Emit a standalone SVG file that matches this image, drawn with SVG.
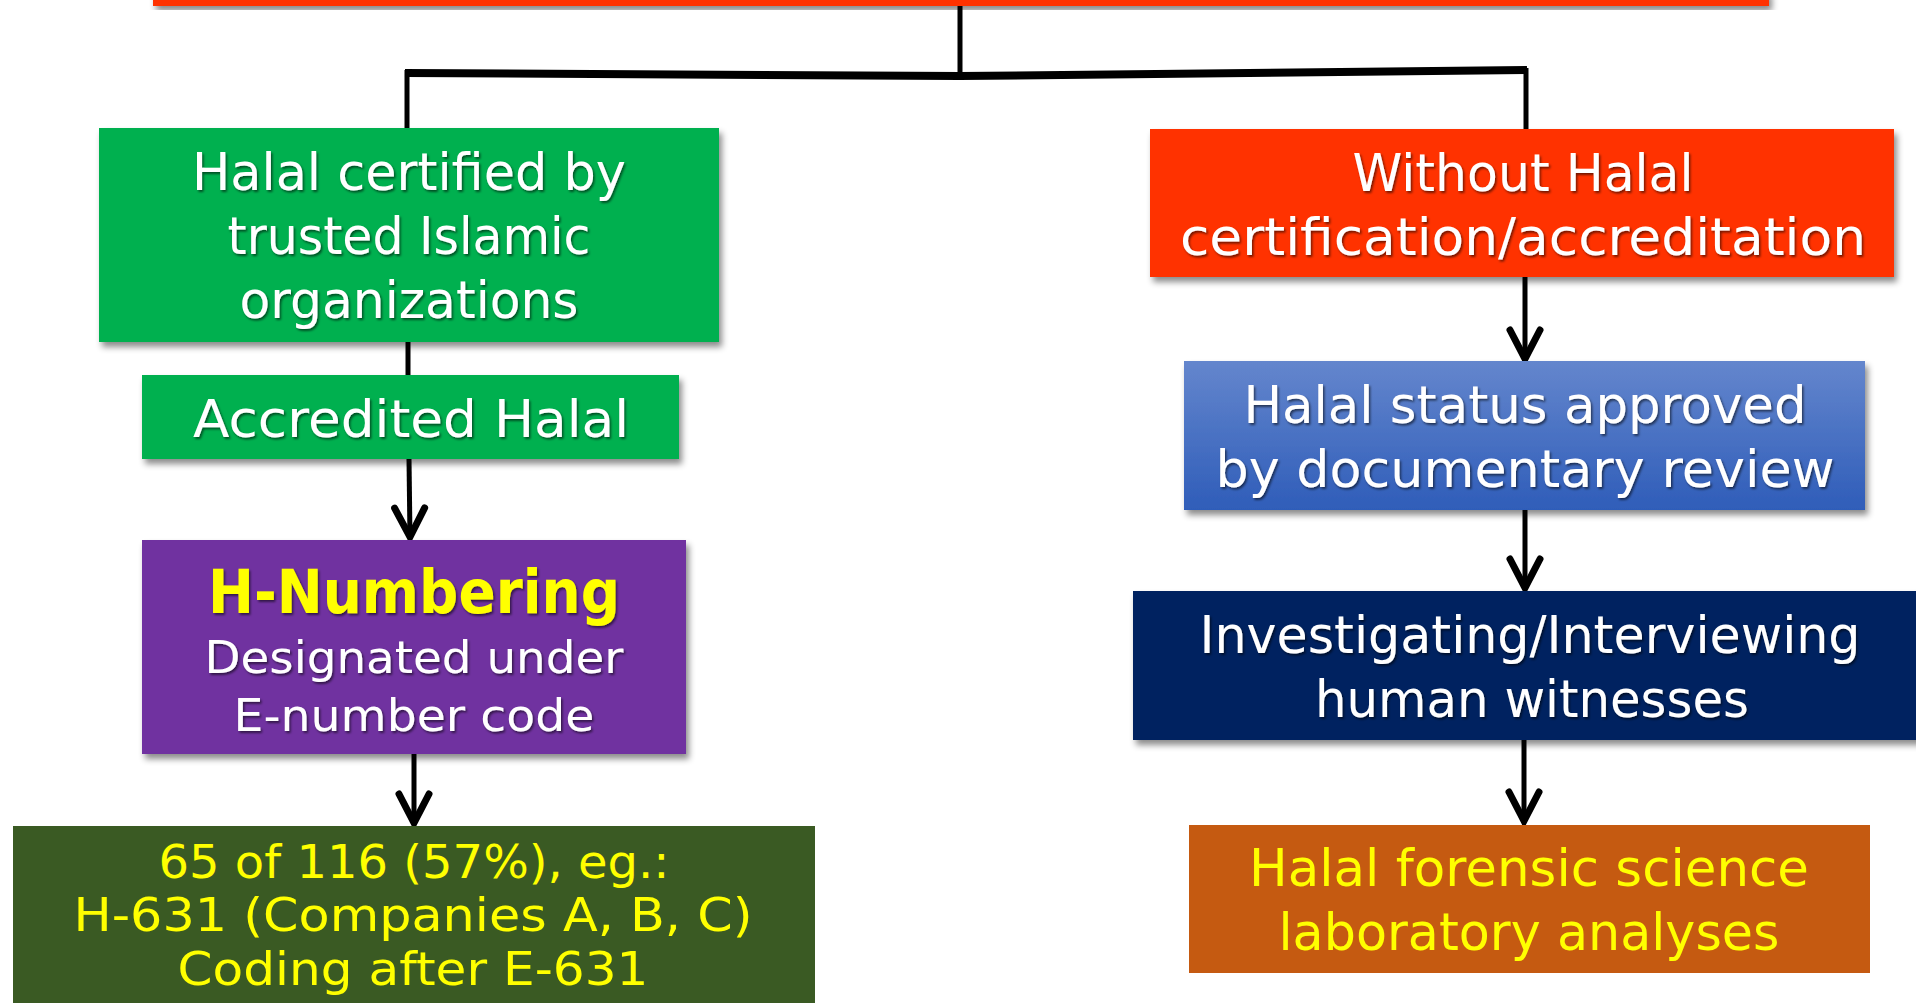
<svg xmlns="http://www.w3.org/2000/svg" width="1916" height="1003" viewBox="0 0 1916 1003">
<defs>
<filter id="bsh" x="-5%" y="-10%" width="115%" height="130%">
<feDropShadow dx="3" dy="5" stdDeviation="3" flood-color="#000" flood-opacity="0.45"/>
</filter>
<filter id="tsh" x="-5%" y="-20%" width="110%" height="150%">
<feDropShadow dx="1.5" dy="2" stdDeviation="1" flood-color="#000" flood-opacity="0.55"/>
</filter>
<linearGradient id="blueg" x1="0" y1="0" x2="0" y2="1">
<stop offset="0" stop-color="#6486cd"/>
<stop offset="1" stop-color="#2f5db9"/>
</linearGradient>
<marker id="arr" markerUnits="userSpaceOnUse" markerWidth="50" markerHeight="50" viewBox="-40 -25 50 50" refX="0" refY="0" orient="auto" overflow="visible">
<path d="M-30,-15 L-1,0 L-30,15" fill="none" stroke="#000" stroke-width="7" stroke-linecap="round" stroke-linejoin="miter"/>
</marker>
<style>
text{font-family:"DejaVu Sans","Liberation Sans",sans-serif;text-anchor:middle;}
.w{fill:#fff;font-size:52px;filter:url(#tsh);}
.y{fill:#ffff00;font-size:52px;}
.yt{fill:#ffff00;font-size:46px;}
.ws{fill:#fff;font-size:45px;filter:url(#tsh);}
.hb{fill:#ffff00;font-size:60px;font-weight:bold;filter:url(#tsh);}
.con{stroke:#000;stroke-width:5;fill:none;}
.arrow{marker-end:url(#arr);}
</style>
</defs>

<g id="connectors">
<line class="con" x1="960" y1="4" x2="960" y2="72"/>
<path d="M405,73 L960,76 L1527,70" stroke="#000" stroke-width="8" fill="none"/>
<line class="con" x1="407" y1="70" x2="407" y2="130"/>
<line class="con" x1="1526" y1="68" x2="1526" y2="130"/>
<line class="con" x1="408" y1="340" x2="408" y2="377"/>
<line class="con arrow" x1="409" y1="459" x2="410" y2="538"/>
<line class="con arrow" x1="414" y1="754" x2="414" y2="824"/>
<line class="con arrow" x1="1525" y1="277" x2="1525" y2="360"/>
<line class="con arrow" x1="1525" y1="510" x2="1525" y2="589"/>
<line class="con arrow" x1="1524" y1="740" x2="1524" y2="822"/>
</g>

<g id="top">
<rect x="153" y="-10" width="1616" height="16" fill="#ff3300" filter="url(#bsh)"/>
</g>

<g id="certified">
<rect x="99" y="128" width="620" height="214" fill="#00b050" filter="url(#bsh)"/>
<text class="w" x="409" y="190" textLength="434" lengthAdjust="spacingAndGlyphs">Halal certified by</text>
<text class="w" x="409" y="254" textLength="363" lengthAdjust="spacingAndGlyphs">trusted Islamic</text>
<text class="w" x="409" y="318" textLength="339" lengthAdjust="spacingAndGlyphs">organizations</text>
</g>

<g id="accredited">
<rect x="142" y="375" width="537" height="84" fill="#00b050" filter="url(#bsh)"/>
<text class="w" x="411" y="437" textLength="436" lengthAdjust="spacingAndGlyphs">Accredited Halal</text>
</g>

<g id="hnumbering">
<rect x="142" y="540" width="544" height="214" fill="#7030a0" filter="url(#bsh)"/>
<text class="hb" x="414" y="613" textLength="412" lengthAdjust="spacingAndGlyphs">H-Numbering</text>
<text class="ws" x="414" y="673" textLength="419" lengthAdjust="spacingAndGlyphs">Designated under</text>
<text class="ws" x="414" y="731" textLength="361" lengthAdjust="spacingAndGlyphs">E-number code</text>
</g>

<g id="examples">
<rect x="13" y="826" width="802" height="190" fill="#3a5a23"/>
<text class="yt" x="414" y="878" textLength="511" lengthAdjust="spacingAndGlyphs">65 of 116 (57%), eg.:</text>
<text class="yt" x="413" y="931" textLength="679" lengthAdjust="spacingAndGlyphs">H-631 (Companies A, B, C)</text>
<text class="yt" x="413" y="985" textLength="471" lengthAdjust="spacingAndGlyphs">Coding after E-631</text>
</g>

<g id="without">
<rect x="1150" y="129" width="744" height="148" fill="#ff3300" filter="url(#bsh)"/>
<text class="w" x="1523" y="191" textLength="341" lengthAdjust="spacingAndGlyphs">Without Halal</text>
<text class="w" x="1523" y="255" textLength="686" lengthAdjust="spacingAndGlyphs">certification/accreditation</text>
</g>

<g id="documentary">
<rect x="1184" y="361" width="681" height="149" fill="url(#blueg)" filter="url(#bsh)"/>
<text class="w" x="1525" y="423" textLength="563" lengthAdjust="spacingAndGlyphs">Halal status approved</text>
<text class="w" x="1525" y="487" textLength="619" lengthAdjust="spacingAndGlyphs">by documentary review</text>
</g>

<g id="investigating">
<rect x="1133" y="591" width="800" height="149" fill="#022060" filter="url(#bsh)"/>
<text class="w" x="1530" y="653" textLength="661" lengthAdjust="spacingAndGlyphs">Investigating/Interviewing</text>
<text class="w" x="1532" y="717" textLength="434" lengthAdjust="spacingAndGlyphs">human witnesses</text>
</g>

<g id="forensic">
<rect x="1189" y="825" width="681" height="148" fill="#c55a11"/>
<text class="y" x="1529" y="886" textLength="560" lengthAdjust="spacingAndGlyphs">Halal forensic science</text>
<text class="y" x="1529" y="950" textLength="501" lengthAdjust="spacingAndGlyphs">laboratory analyses</text>
</g>
</svg>
